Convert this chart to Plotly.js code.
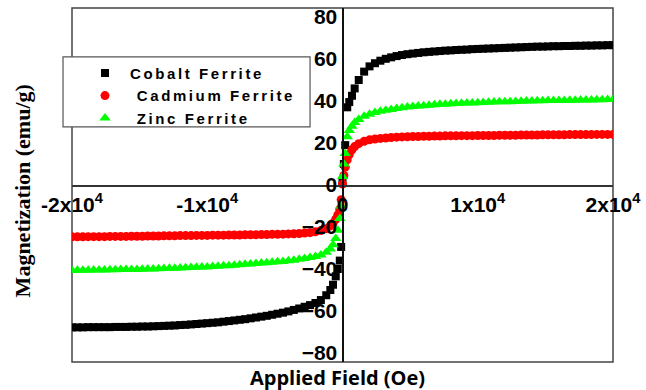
<!DOCTYPE html>
<html>
<head>
<meta charset="utf-8">
<script src="https://cdn.plot.ly/plotly-3.0.1.min.js"></script>
<style>
  html, body { margin: 0; padding: 0; background: #ffffff; }
  #chart { width: 646px; height: 390px; }
  .legendtext { letter-spacing: 2.6px; }
</style>
</head>
<body>
<div id="chart"></div>
<script>
// Applied field (Oe), swept from -2x10^4 to 2x10^4
const fieldOe = [
  -20000, -19600, -19200, -18800, -18400, -18000, -17600, -17200, -16800, -16400,
  -16000, -15600, -15200, -14800, -14400, -14000, -13600, -13200, -12800, -12400,
  -12000, -11600, -11200, -10800, -10400, -10000, -9600, -9200, -8800, -8400,
  -8000, -7600, -7200, -6800, -6400, -6000, -5600, -5200, -4800, -4400,
  -4000, -3600, -3200, -2800, -2400, -2000,
  -1600, -1200, -900, -700, -500, -350, -200, -100,
  0,
  100, 200, 350, 500, 700, 900, 1200, 1600,
  2000, 2400, 2800, 3200, 3600, 4000, 4400, 4800, 5200, 5600,
  6000, 6400, 6800, 7200, 7600, 8000, 8400, 8800, 9200, 9600,
  10000, 10400, 10800, 11200, 11600, 12000, 12400, 12800, 13200, 13600,
  14000, 14400, 14800, 15200, 15600, 16000, 16400, 16800, 17200, 17600,
  18000, 18400, 18800, 19200, 19600, 20000
];

// Magnetization (emu/g) of each ferrite at the fields above
const cobaltFerrite = [
  -67.8, -67.8, -67.8, -67.7, -67.7, -67.7, -67.7, -67.7, -67.6, -67.6,
  -67.6, -67.5, -67.5, -67.4, -67.4, -67.3, -67.2, -67.1, -67.0, -66.9,
  -66.7, -66.6, -66.4, -66.2, -66.0, -65.8, -65.6, -65.4, -65.1, -64.8,
  -64.5, -64.2, -63.9, -63.5, -63.1, -62.7, -62.3, -61.8, -61.3, -60.8,
  -60.2, -59.5, -58.8, -58.0, -57.2, -56.2,
  -54.8, -52.5, -50.0, -47.5, -43.5, -40.0, -36.0, -29.5,
  2.0,
  10.0, 19.0, 37.0, 39.5, 42.5, 46.0, 50.0, 54.0,
  56.5, 58.0, 59.2, 60.1, 60.8, 61.4, 61.9, 62.3, 62.6, 62.9,
  63.2, 63.4, 63.6, 63.8, 64.0, 64.1, 64.3, 64.4, 64.5, 64.7,
  64.8, 64.9, 65.0, 65.1, 65.2, 65.3, 65.4, 65.5, 65.6, 65.7,
  65.8, 65.9, 65.9, 66.0, 66.1, 66.1, 66.2, 66.2, 66.3, 66.3,
  66.4, 66.4, 66.5, 66.5, 66.6, 66.6
];

const cadmiumFerrite = [
  -24.7, -24.7, -24.7, -24.6, -24.6, -24.6, -24.6, -24.5, -24.5, -24.5,
  -24.5, -24.4, -24.4, -24.4, -24.3, -24.3, -24.3, -24.2, -24.2, -24.2,
  -24.1, -24.1, -24.1, -24.0, -24.0, -24.0, -23.9, -23.9, -23.9, -23.8,
  -23.8, -23.8, -23.7, -23.7, -23.7, -23.6, -23.6, -23.5, -23.5, -23.4,
  -23.3, -23.2, -23.1, -22.9, -22.7, -22.3,
  -21.7, -20.8, -19.5, -18.2, -16.3, -14.2, -11.5, -7.0,
  0.5,
  4.5, 8.5, 12.0, 14.5, 16.8, 18.3, 19.7, 20.8,
  21.5, 21.9, 22.2, 22.4, 22.6, 22.8, 22.9, 23.0, 23.1, 23.1,
  23.2, 23.2, 23.3, 23.3, 23.4, 23.4, 23.4, 23.5, 23.5, 23.5,
  23.6, 23.6, 23.6, 23.6, 23.7, 23.7, 23.7, 23.7, 23.8, 23.8,
  23.8, 23.8, 23.9, 23.9, 23.9, 23.9, 23.9, 24.0, 24.0, 24.0,
  24.0, 24.0, 24.1, 24.1, 24.1, 24.1
];

const zincFerrite = [
  -40.7, -40.6, -40.6, -40.6, -40.5, -40.5, -40.5, -40.4, -40.4, -40.3,
  -40.3, -40.2, -40.2, -40.1, -40.0, -40.0, -39.9, -39.8, -39.7, -39.6,
  -39.5, -39.4, -39.3, -39.2, -39.1, -39.0, -38.8, -38.7, -38.5, -38.4,
  -38.2, -38.0, -37.8, -37.6, -37.4, -37.2, -37.0, -36.8, -36.6, -36.4,
  -36.1, -35.8, -35.4, -35.0, -34.5, -34.0,
  -33.3, -32.0, -30.5, -28.5, -25.5, -21.5, -16.0, -10.0,
  4.0,
  10.0, 15.0, 23.0, 26.0, 28.0, 29.8, 31.2, 32.7,
  33.7, 34.5, 35.1, 35.6, 36.0, 36.4, 36.8, 37.1, 37.4, 37.6,
  37.8, 38.0, 38.2, 38.4, 38.5, 38.7, 38.8, 38.9, 39.0, 39.1,
  39.2, 39.3, 39.4, 39.5, 39.6, 39.7, 39.7, 39.8, 39.9, 40.0,
  40.0, 40.1, 40.1, 40.2, 40.2, 40.3, 40.3, 40.4, 40.4, 40.5,
  40.5, 40.5, 40.6, 40.6, 40.7, 40.7
];

const seriesNames = ['Cobalt Ferrite', '\u00a0Cadmium Ferrite', '\u00a0Zinc Ferrite'];

const xTickVals = [-20000, -10000, 0, 10000, 20000];
const xTickText = ['-2x10<sup>4</sup>', '-1x10<sup>4</sup>', '0', '1x10<sup>4</sup>', '2x10<sup>4</sup>'];
const yTickVals = [-80, -60, -40, -20, 0, 20, 40, 60, 80];

const xRange = [-20000, 20000];
const yRange = [-84.3, 84.3];

const traces = [
  { x: fieldOe, y: cobaltFerrite, name: seriesNames[0], type: 'scatter', mode: 'markers',
    marker: { symbol: 'square', size: 8, color: '#000000' } },
  { x: fieldOe, y: cadmiumFerrite, name: seriesNames[1], type: 'scatter', mode: 'markers',
    marker: { symbol: 'circle', size: 9, color: '#ff0000' } },
  { x: fieldOe, y: zincFerrite, name: seriesNames[2], type: 'scatter', mode: 'markers',
    marker: { symbol: 'triangle-up', size: 10, color: '#00ff00' } }
];

// axes cross at the origin, inside a plain frame
const xZeroFrac = (0 - yRange[0]) / (yRange[1] - yRange[0]);
const yZeroFrac = (0 - xRange[0]) / (xRange[1] - xRange[0]);

const tickFont = { family: 'Liberation Sans, Arial, sans-serif', size: 21, color: '#000000', weight: 'bold' };

const layout = {
  width: 646,
  height: 390,
  margin: { l: 72, r: 33, t: 8, b: 28 },
  paper_bgcolor: '#ffffff',
  plot_bgcolor: '#ffffff',
  showlegend: true,
  xaxis: {
    range: xRange,
    anchor: 'free',
    position: xZeroFrac,
    showgrid: false,
    zeroline: false,
    showline: true,
    linecolor: '#333333',
    linewidth: 1.5,
    ticks: '',
    tickvals: xTickVals,
    ticktext: xTickText,
    tickfont: tickFont
  },
  yaxis: {
    range: yRange,
    anchor: 'free',
    position: yZeroFrac,
    showgrid: false,
    zeroline: false,
    showline: true,
    linecolor: '#111111',
    linewidth: 2,
    ticks: '',
    tickvals: yTickVals,
    tickfont: tickFont
  },
  legend: {
    x: 0.0148, y: 0.862, xanchor: 'left', yanchor: 'top',
    bgcolor: 'rgba(0,0,0,0)',
    borderwidth: 0,
    itemwidth: 40,
    tracegroupgap: 0,
    font: { family: 'Liberation Sans, Arial, sans-serif', size: 15, color: '#000000', weight: 'bold' }
  },
  shapes: [
    { type: 'rect', xref: 'paper', yref: 'paper', x0: 0, x1: 1, y0: 0, y1: 1,
      line: { color: '#444444', width: 1.5 }, layer: 'below' },
    { type: 'rect', xref: 'paper', yref: 'paper', x0: -0.0166, x1: 0.44, y0: 0.664, y1: 0.862,
      fillcolor: '#ffffff', line: { color: '#555555', width: 1.2 }, layer: 'above' }
  ],
  annotations: [
    { text: 'Magnetization (emu/g)', xref: 'paper', yref: 'paper', x: -0.0924, y: 0.482,
      xanchor: 'center', yanchor: 'middle', textangle: -90, showarrow: false,
      font: { family: 'Liberation Serif, Times New Roman, serif', size: 22, color: '#000000', weight: 'bold' } },
    { text: 'Applied Field (Oe)', xref: 'paper', yref: 'paper', x: 0.49, y: -0.045,
      xanchor: 'center', yanchor: 'middle', showarrow: false,
      font: { family: 'Open Sans, Liberation Sans, sans-serif', size: 20, color: '#000000', weight: 'bold' } }
  ]
};

Plotly.newPlot('chart', traces, layout, { displayModeBar: false, staticPlot: true });
</script>
</body>
</html>
